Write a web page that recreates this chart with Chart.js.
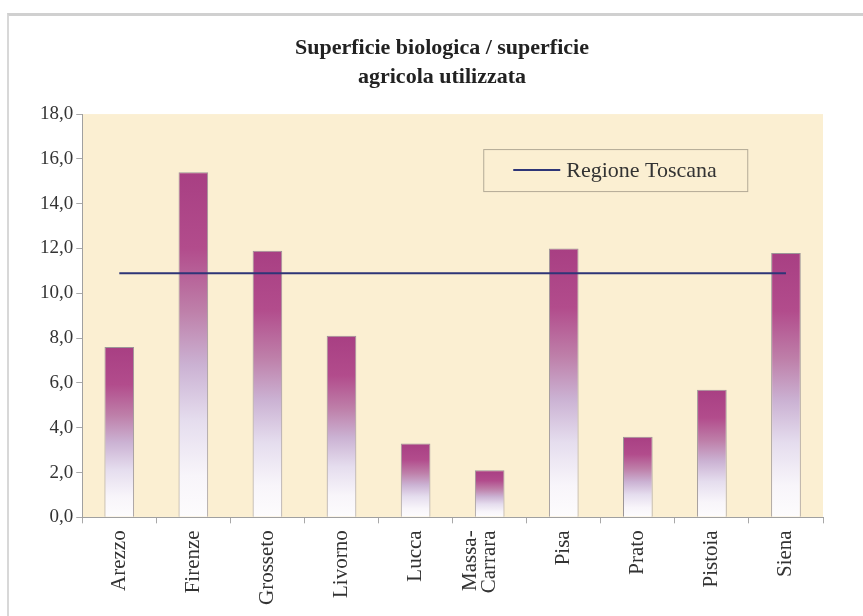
<!DOCTYPE html>
<html>
<head>
<meta charset="utf-8">
<script src="https://cdn.jsdelivr.net/npm/chart.js@4/dist/chart.umd.min.js"></script>
<style>
  body { margin: 0; background: #fff; overflow: hidden; }
  #frame { position: absolute; left: 7px; top: 13px; width: 900px; height: 700px;
           border-left: 2px solid #d8d8d8; border-top: 3px solid #d0d0d0; }
  #chart { position: absolute; left: 0; top: 0; }
</style>
</head>
<body>
<div id="frame"></div>
<canvas id="chart" width="863" height="616"></canvas>
<script>
// data
const provinces = ['Arezzo', 'Firenze', 'Grosseto', 'Livorno', 'Lucca', ['Massa-', 'Carrara'], 'Pisa', 'Prato', 'Pistoia', 'Siena'];
const bioShare = [7.6, 15.4, 11.9, 8.1, 3.3, 2.1, 12.0, 3.6, 5.7, 11.8];
const toscana = [10.9, 10.9, 10.9, 10.9, 10.9, 10.9, 10.9, 10.9, 10.9, 10.9];
const titleLines = ['Superficie biologica / superficie', 'agricola utilizzata'];
const lineLabel = 'Regione Toscana';
const yMin = 0, yMax = 18, yStep = 2;

const serif = "'Liberation Serif', 'Times New Roman', serif";

// each bar fades from purple at its top to white at the axis
function barGradient(ctx) {
  const chart = ctx.chart;
  if (!chart.chartArea || ctx.type !== 'data') return '#b0428a';
  const y = chart.scales.y;
  const top = y.getPixelForValue(ctx.raw);
  const base = y.getPixelForValue(0);
  const g = chart.ctx.createLinearGradient(0, top, 0, base);
  g.addColorStop(0, '#a83f83');
  g.addColorStop(0.22, '#b24c8c');
  g.addColorStop(0.4, '#be7fa9');
  g.addColorStop(0.56, '#cbb2d3');
  g.addColorStop(0.72, '#e5ddee');
  g.addColorStop(0.88, '#f8f5fa');
  g.addColorStop(1, '#fdfcfd');
  return g;
}

// cream plot background
const plotBg = {
  id: 'plotBg',
  beforeDraw(chart) {
    const a = chart.chartArea, c = chart.ctx;
    c.save();
    c.fillStyle = '#fbefd2';
    c.fillRect(a.left, a.top, a.right - a.left, a.bottom - a.top);
    c.restore();
  }
};

// the title sits centred a bit right of the canvas middle
const titleShift = {
  id: 'titleShift',
  afterLayout(chart) {
    if (chart.titleBlock) chart.titleBlock.left += 24;
  }
};

// two-line x labels: put the last line on the tick, like the original
const multiLineShift = {
  id: 'multiLineShift',
  beforeDraw(chart) {
    const x = chart.scales.x;
    if (!x.getLabelItems) return;
    x.getLabelItems().forEach(it => {
      if (Array.isArray(it.label) && !it.shifted) {
        it.options.translation[0] -= (it.label.length - 1) * it.font.lineHeight;
        it.shifted = true;
      }
    });
  }
};

// boxed legend inside the plot
const boxLegend = {
  id: 'boxLegend',
  afterDatasetsDraw(chart) {
    const a = chart.chartArea, c = chart.ctx;
    const ds = chart.data.datasets[0];
    const x = a.left + 401, y = a.top + 35, w = 264, h = 42;
    c.save();
    c.fillStyle = '#fbefd2';
    c.fillRect(x, y, w, h);
    c.strokeStyle = '#b3aa96';
    c.lineWidth = 1;
    c.strokeRect(x + 0.5, y + 0.5, w, h);
    c.strokeStyle = ds.borderColor;
    c.lineWidth = 2;
    c.beginPath();
    c.moveTo(x + 30, y + h / 2);
    c.lineTo(x + 77, y + h / 2);
    c.stroke();
    c.fillStyle = '#333';
    c.font = '22px ' + serif;
    c.textBaseline = 'middle';
    c.fillText(ds.label, x + 83, y + h / 2 + 1);
    c.restore();
  }
};

new Chart(document.getElementById('chart'), {
  data: {
    labels: provinces,
    datasets: [{
      type: 'line',
      label: lineLabel,
      data: toscana,
      borderColor: '#2e3577',
      borderWidth: 2,
      pointRadius: 0,
      order: 0
    }, {
      type: 'bar',
      label: 'Province',
      data: bioShare,
      backgroundColor: barGradient,
      borderColor: '#9c9698',
      borderWidth: 1,
      barPercentage: 0.4,
      categoryPercentage: 1,
      order: 1
    }]
  },
  options: {
    responsive: false,
    animation: false,
    devicePixelRatio: 1,
    layout: { padding: { left: 37, right: 40, top: 20, bottom: 4 } },
    plugins: {
      legend: { display: false },
      tooltip: { enabled: false },
      title: {
        display: true,
        text: titleLines,
        color: '#222',
        font: { family: serif, size: 22, weight: 'bold', lineHeight: 1.32 },
        padding: { top: 14, bottom: 22 }
      }
    },
    scales: {
      x: {
        grid: { display: true, drawOnChartArea: false, tickLength: 6, color: '#a8a8a8' },
        border: { color: '#a0a0a0' },
        ticks: {
          autoSkip: false, minRotation: 90, maxRotation: 90, padding: 7,
          color: '#333', font: { family: serif, size: 21, lineHeight: 0.9 }
        }
      },
      y: {
        min: yMin, max: yMax,
        grid: { display: true, drawOnChartArea: false, tickLength: 6, color: '#a8a8a8' },
        border: { color: '#a0a0a0' },
        ticks: {
          stepSize: yStep, padding: 3, color: '#333',
          font: { family: serif, size: 19 },
          callback: v => v.toFixed(1).replace('.', ',')
        }
      }
    }
  },
  plugins: [plotBg, titleShift, multiLineShift, boxLegend]
});
</script>
</body>
</html>
